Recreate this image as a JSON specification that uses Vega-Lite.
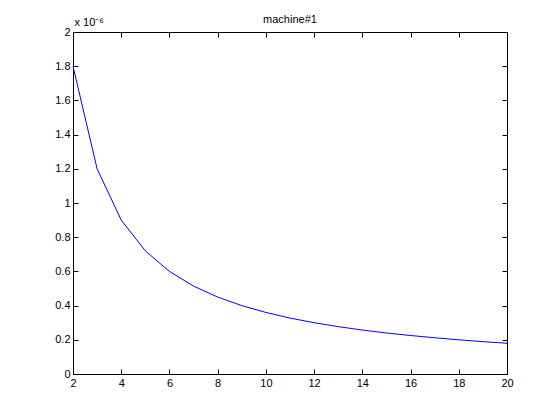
{
  "$schema": "https://vega.github.io/schema/vega-lite/v6.json",
  "width": 434,
  "height": 342,
  "autosize": {"type": "none"},
  "padding": {"left": 73, "top": 32, "right": 53, "bottom": 46},
  "background": "white",
  "title": {"text": "machine#1", "font": "Liberation Sans", "fontSize": 11, "fontWeight": "normal", "color": "black", "offset": 9, "dy": 18, "anchor": "middle"},
  "config": {
    "view": {"stroke": "black", "strokeWidth": 1},
    "axis": {
      "grid": false,
      "domainColor": "black",
      "tickColor": "black",
      "tickSize": -5,
      "labelFont": "Liberation Sans",
      "labelFontSize": 11,
      "labelColor": "black",
      "titleFont": "Liberation Sans",
      "titleFontSize": 11,
      "titleFontWeight": "normal",
      "titleColor": "black"
    }
  },
  "data": {"values": [
    {"n": 2, "v": 1.8},
    {"n": 3, "v": 1.2},
    {"n": 4, "v": 0.9},
    {"n": 5, "v": 0.72},
    {"n": 6, "v": 0.6},
    {"n": 7, "v": 0.514},
    {"n": 8, "v": 0.45},
    {"n": 9, "v": 0.4},
    {"n": 10, "v": 0.36},
    {"n": 11, "v": 0.327},
    {"n": 12, "v": 0.3},
    {"n": 13, "v": 0.277},
    {"n": 14, "v": 0.257},
    {"n": 15, "v": 0.24},
    {"n": 16, "v": 0.225},
    {"n": 17, "v": 0.212},
    {"n": 18, "v": 0.2},
    {"n": 19, "v": 0.189},
    {"n": 20, "v": 0.18}
  ]},
  "layer": [
    {
      "mark": {"type": "line", "color": "#0000ff", "strokeWidth": 1},
      "encoding": {
        "x": {"field": "n", "type": "quantitative", "scale": {"domain": [2, 20], "nice": false, "zero": false},
              "axis": {"orient": "bottom", "title": null, "values": [2,4,6,8,10,12,14,16,18,20], "labelPadding": 8, "labelFlush": false}},
        "y": {"field": "v", "type": "quantitative", "scale": {"domain": [0, 2], "nice": false},
              "axis": {"orient": "left", "values": [0,0.2,0.4,0.6,0.8,1,1.2,1.4,1.6,1.8,2], "labelPadding": 8,
                       "labelExpr": "datum.value", "title": "x 10⁻⁶", "titleAngle": 0, "titleAlign": "left", "titleBaseline": "alphabetic", "titleX": 1, "titleY": -7}}
      }
    },
    {
      "mark": {"type": "line", "opacity": 0},
      "encoding": {
        "x": {"field": "n", "type": "quantitative", "scale": {"domain": [2, 20], "nice": false, "zero": false},
              "axis": {"orient": "top", "title": null, "labels": false, "values": [2,4,6,8,10,12,14,16,18,20]}},
        "y": {"field": "v", "type": "quantitative", "scale": {"domain": [0, 2], "nice": false},
              "axis": {"orient": "right", "title": null, "labels": false, "values": [0,0.2,0.4,0.6,0.8,1,1.2,1.4,1.6,1.8,2]}}
      }
    }
  ],
  "resolve": {"axis": {"x": "independent", "y": "independent"}}
}
